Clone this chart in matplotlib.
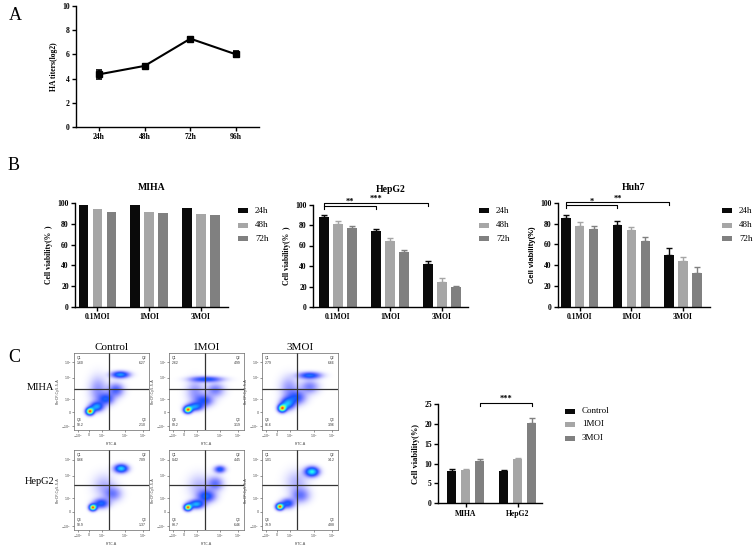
import numpy as np
import matplotlib
matplotlib.use('Agg')
import matplotlib.pyplot as plt
from matplotlib.patches import Rectangle

W, H = 753, 545
SERIF = 'Liberation Serif'
SANS = 'Liberation Sans'
COLS = ['#0a0a0a', '#a6a6a6', '#808080']

# ---- panel A data
a_times = ['24h', '48h', '72h', '96h']
a_titer = [4.35, 5.05, 7.3, 6.0]
a_err = [0.35, 0.1, 0.15, 0.25]

# ---- panel B data (rows = 24h, 48h, 72h ; cols = MOI)
moi_labels = ['0.1MOI', '1MOI', '3MOI']
hours = ['24h', '48h', '72h']
miha_vals = [[97.8, 97.8, 94.9], [94.0, 91.1, 89.8], [91.7, 90.2, 88.9]]
hepg2_vals = [[88.0, 74.0, 41.5], [80.5, 64.5, 24.5], [77.0, 53.5, 19.2]]
hepg2_err = [[1.3, 2.5, 3.5], [3.5, 2.8, 4.0], [2.5, 2.0, 1.5]]
huh7_vals = [[85.7, 78.7, 49.4], [77.7, 73.9, 44.3], [74.5, 63.4, 32.5]]
huh7_err = [[2.2, 3.8, 7.6], [4.0, 2.9, 3.2], [3.0, 3.5, 6.0]]

# ---- panel C data
c_groups = ['MIHA', 'HepG2']
c_series = ['Control', '1MOI', '3MOI']
c_vals = [[8.05, 8.05], [8.4, 11.1], [10.6, 20.2]]
c_err = [[0.5, 0.3], [0.3, 0.3], [0.5, 1.4]]

flow_cols = ['Control', '1MOI', '3MOI']
flow_rows = ['MIHA', 'HepG2']
# quadrant percentages Q1, Q2, Q3, Q4
flow_q = [[[1.60, 6.27, 2.10, 90.2], [2.62, 4.99, 3.19, 89.2], [2.79, 6.66, 3.96, 86.6]],
          [[0.66, 7.09, 1.37, 90.9], [0.42, 4.45, 6.46, 88.7], [1.01, 14.2, 4.88, 79.9]]]
# population blobs: x, y, sx, sy, weight (axes fraction)
flow_blobs = [
    [[(0.21, 0.24, 0.035, 0.03, 1.0), (0.30, 0.30, 0.06, 0.04, 0.45), (0.43, 0.40, 0.07, 0.05, 0.3),
      (0.56, 0.52, 0.07, 0.06, 0.25), (0.62, 0.72, 0.08, 0.03, 0.45), (0.32, 0.52, 0.08, 0.12, 0.15)],
     [(0.25, 0.26, 0.035, 0.028, 1.0), (0.34, 0.30, 0.07, 0.035, 0.45), (0.47, 0.38, 0.08, 0.05, 0.3),
      (0.62, 0.52, 0.08, 0.06, 0.2), (0.50, 0.66, 0.14, 0.025, 0.35), (0.35, 0.50, 0.08, 0.10, 0.15)],
     [(0.26, 0.28, 0.035, 0.032, 1.0), (0.33, 0.34, 0.06, 0.05, 0.5), (0.45, 0.42, 0.08, 0.06, 0.3),
      (0.62, 0.56, 0.08, 0.06, 0.2), (0.62, 0.71, 0.10, 0.03, 0.4), (0.35, 0.55, 0.08, 0.10, 0.15)]],
    [[(0.25, 0.28, 0.032, 0.026, 1.0), (0.36, 0.33, 0.07, 0.04, 0.35), (0.52, 0.45, 0.08, 0.06, 0.18),
      (0.63, 0.77, 0.06, 0.035, 0.55), (0.40, 0.55, 0.10, 0.10, 0.1)],
     [(0.25, 0.28, 0.032, 0.026, 1.0), (0.36, 0.32, 0.07, 0.035, 0.5), (0.50, 0.42, 0.08, 0.05, 0.35),
      (0.62, 0.58, 0.07, 0.06, 0.22), (0.68, 0.76, 0.05, 0.03, 0.35), (0.40, 0.55, 0.10, 0.10, 0.1)],
     [(0.23, 0.29, 0.032, 0.026, 1.0), (0.33, 0.33, 0.06, 0.04, 0.35), (0.50, 0.43, 0.08, 0.06, 0.2),
      (0.65, 0.73, 0.06, 0.04, 0.6), (0.45, 0.60, 0.10, 0.10, 0.1)]],
]

fig = plt.figure(figsize=(W / 100, H / 100), dpi=100, facecolor='white')


def px_ax(l, t, r, b):
    return fig.add_axes([l / W, 1 - b / H, (r - l) / W, (b - t) / H])


def ftext(x, y, s, **kw):
    fig.text(x / W, 1 - y / H, s, **kw)


def style(ax, lw=1.0):
    for s in ('top', 'right'):
        ax.spines[s].set_visible(False)
    for s in ('left', 'bottom'):
        ax.spines[s].set_linewidth(lw)
    ax.tick_params(length=3, width=lw, pad=1.5, labelsize=5.5)
    for lab in ax.get_xticklabels() + ax.get_yticklabels():
        lab.set_fontfamily(SERIF)
        lab.set_fontweight('bold')


def legend(x, y, labels, step=14):
    for i, (lab, col) in enumerate(zip(labels, COLS)):
        fig.add_artist(Rectangle(((x) / W, 1 - (y + i * step + 2.5) / H), 10 / W, 5 / H,
                                 transform=fig.transFigure, fc=col, ec='none'))
        ftext(x + 17, y + i * step, lab, fontsize=6.5, family=SERIF, va='center', ha='left')


def bracket(ax, x1, x2, y, h, s):
    ax.plot([x1, x1, x2, x2], [y - h, y, y, y - h], color='k', lw=0.8, clip_on=False)
    ax.text((x1 + x2) / 2, y, s, ha='center', va='bottom', fontsize=6, fontweight='bold',
            family=SERIF, clip_on=False)


def group_bars(ax, vals, errs, labels, off, bw, xlim):
    x = np.arange(len(labels))
    for i, (v, col) in enumerate(zip(vals, COLS)):
        xs = x + (i - 1) * off
        ax.bar(xs, v, width=bw, color=col, zorder=2)
        if errs is not None:
            ax.errorbar(xs, v, yerr=[np.zeros(len(v)), errs[i]], fmt='none', ecolor=col,
                        elinewidth=1.0, capsize=2, capthick=1.0, zorder=1)
    ax.set_xticks(x)
    ax.set_xticklabels(labels)
    ax.set_xlim(*xlim)


# ---------------- panel A
axA = px_ax(76, 6, 259, 127)
axA.errorbar(range(len(a_times)), a_titer, yerr=a_err, color='k', marker='s', ms=4,
             lw=1.5, capsize=2.5, elinewidth=1.2, capthick=1.2)
axA.set_xlim(-0.5, 3.5)
axA.set_ylim(0, 10)
axA.set_yticks([0, 2, 4, 6, 8, 10])
axA.set_xticks(range(len(a_times)))
axA.set_xticklabels(a_times)
axA.set_ylabel('HA titers(log2)', fontsize=5.5, family=SERIF, fontweight='bold', labelpad=3)
style(axA)
ftext(9, 16, 'A', fontsize=13, family=SERIF, va='center', ha='left')

# ---------------- panel B
ftext(8, 166, 'B', fontsize=13, family=SERIF, va='center', ha='left')
b_specs = [
    ('MIHA', miha_vals, None, (75, 203, 228, 307), (-0.43, 2.52), 238, SERIF, 'Cell viability(%  )'),
    ('HepG2', hepg2_vals, hepg2_err, (313, 204.5, 468, 307), (-0.48, 2.5), 479, SERIF, 'Cell viability(%  )'),
    ('Huh7', huh7_vals, huh7_err, (558, 202.7, 710, 307), (-0.42, 2.52), 722, SANS, 'Cell viability(%)'),
]
b_axes = []
for name, vals, errs, box, xl, lx, yfam, ylab in b_specs:
    ax = px_ax(*box)
    group_bars(ax, vals, errs, moi_labels, 0.27, 0.185, xl)
    ax.set_ylim(0, 100)
    ax.set_yticks([0, 20, 40, 60, 80, 100])
    ax.set_ylabel(ylab, fontsize=5.5, family=yfam, fontweight='bold', labelpad=3)
    ax.set_title(name, fontsize=7, family=SERIF, fontweight='bold', pad=9)
    style(ax)
    legend(lx, 211, hours)
    b_axes.append(ax)

bracket(b_axes[1], -0.27, 1.73, 101.5, 2.5, '***')
bracket(b_axes[1], -0.27, 0.73, 98.5, 2.5, '**')
bracket(b_axes[2], -0.27, 1.73, 100.2, 2.5, '**')
bracket(b_axes[2], -0.27, 0.73, 97.5, 2.5, '*')

# ---------------- panel C : flow plots
ftext(8, 357, 'C', fontsize=13, family=SERIF, va='center', ha='left')
col_x = [(74, 149), (169, 244), (262, 338)]
row_y = [(353, 430), (450, 530)]
vline = [0.46, 0.48, 0.46]
hline = [0.53, 0.56]
xt_pos = [0.05, 0.2, 0.37, 0.68, 0.92]
yt_pos = [0.05, 0.23, 0.40, 0.68, 0.88]
t_labs = [r'$-10^3$', '0', r'$10^3$', r'$10^4$', r'$10^5$']
g = np.linspace(0, 1, 160)
GX, GY = np.meshgrid(g, g)
for r, (t, b) in enumerate(row_y):
    for c, (l, rr) in enumerate(col_x):
        ax = px_ax(l, t, rr, b)
        dens = np.zeros_like(GX)
        for cx, cy, sx, sy, w in flow_blobs[r][c]:
            dens += w * np.exp(-((GX - cx) ** 2 / (2 * sx ** 2) + (GY - cy) ** 2 / (2 * sy ** 2)))
        dens /= dens.max()
        rgba = plt.cm.jet(0.12 + 0.78 * dens ** 2.0)
        rgba[..., 3] = np.clip(dens * 3.0, 0, 0.9)
        ax.imshow(rgba, extent=[0, 1, 0, 1], origin='lower', aspect='auto', interpolation='bilinear')
        ax.axvline(vline[c], color='#333', lw=0.9)
        ax.axhline(hline[r], color='#333', lw=0.9)
        ax.set_xlim(0, 1)
        ax.set_ylim(0, 1)
        q = flow_q[r][c]
        kw = dict(fontsize=2.5, family=SANS, color='#333')
        ax.text(0.04, 0.96, 'Q1\n%.2f' % q[0], ha='left', va='top', **kw)
        ax.text(0.96, 0.96, 'Q2\n%s' % ('%.2f' % q[1] if q[1] < 10 else '%.1f' % q[1]), ha='right', va='top', **kw)
        ax.text(0.96, 0.04, 'Q3\n%.2f' % q[2], ha='right', va='bottom', **kw)
        ax.text(0.04, 0.04, 'Q4\n%.1f' % q[3], ha='left', va='bottom', **kw)
        ax.set_xticks(xt_pos)
        ax.set_xticklabels(t_labs)
        ax.set_yticks(yt_pos)
        ax.set_yticklabels(t_labs)
        ax.tick_params(length=1.5, width=0.4, pad=0.6, labelsize=2.3, colors='#444')
        ax.set_xlabel('FITC-A', fontsize=2.6, labelpad=0.8, color='#444')
        ax.set_ylabel('PerCP-Cy5-5-A', fontsize=2.6, labelpad=0.8, color='#444')
        for s in ax.spines.values():
            s.set_linewidth(0.5)
            s.set_color('#666')
        if r == 0:
            ftext((l + rr) / 2, 347, flow_cols[c], fontsize=8, family=SERIF, ha='center', va='center')
    ftext(40, 387 if r == 0 else 481, flow_rows[r], fontsize=7.5, family=SERIF, ha='center', va='center')

# ---------------- panel C : bar chart
axC = px_ax(438, 404, 542, 503.3)
group_bars(axC, c_vals, c_err, c_groups, 0.27, 0.18, (-0.53, 1.47))
axC.set_ylim(0, 25)
axC.set_yticks([0, 5, 10, 15, 20, 25])
axC.set_ylabel('Cell viability(%)', fontsize=6, family=SERIF, fontweight='bold', labelpad=3)
style(axC)
bracket(axC, 0.27, 1.27, 25.2, 0.6, '***')
legend(565, 411, c_series, step=13.5)

fig.savefig('out.png', dpi=100, facecolor='white')
